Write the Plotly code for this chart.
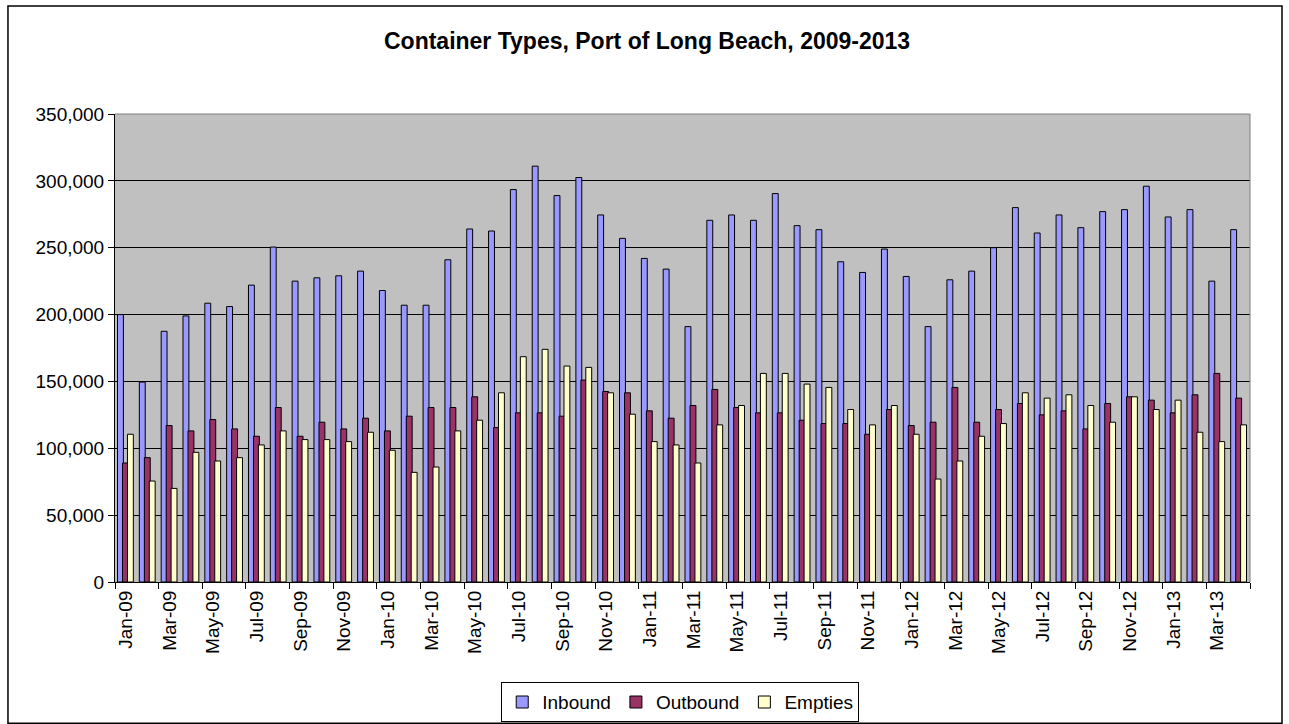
import plotly.graph_objects as go

months = ["Jan-09", "Feb-09", "Mar-09", "Apr-09", "May-09", "Jun-09", "Jul-09", "Aug-09", "Sep-09", "Oct-09", "Nov-09", "Dec-09",
          "Jan-10", "Feb-10", "Mar-10", "Apr-10", "May-10", "Jun-10", "Jul-10", "Aug-10", "Sep-10", "Oct-10", "Nov-10", "Dec-10",
          "Jan-11", "Feb-11", "Mar-11", "Apr-11", "May-11", "Jun-11", "Jul-11", "Aug-11", "Sep-11", "Oct-11", "Nov-11", "Dec-11",
          "Jan-12", "Feb-12", "Mar-12", "Apr-12", "May-12", "Jun-12", "Jul-12", "Aug-12", "Sep-12", "Oct-12", "Nov-12", "Dec-12",
          "Jan-13", "Feb-13", "Mar-13", "Apr-13"]

inbound = [200000, 149500, 187500, 199000, 208500, 206000, 222000, 250500, 225000, 227500, 229000, 232500,
           218000, 207000, 207000, 241000, 264000, 262500, 293500, 311000, 289000, 302500, 274500, 257000,
           242000, 234000, 191000, 270500, 274500, 270500, 290500, 266500, 263500, 239500, 231500, 249000,
           228500, 191000, 226000, 232500, 250000, 280000, 261000, 274500, 265000, 277000, 278500, 296000,
           273000, 278500, 225000, 263500]

outbound = [89000, 93000, 117000, 113000, 121500, 114500, 109000, 130500, 109000, 119500, 114500, 122500,
            113000, 124000, 130500, 130500, 138500, 115500, 126500, 126500, 124000, 151000, 142500, 141500,
            128000, 122500, 132000, 144000, 130500, 126500, 126500, 121000, 118500, 118500, 110500, 129000,
            117000, 119500, 145500, 119500, 129000, 133500, 125000, 128000, 114500, 133500, 138500, 136000,
            126500, 140000, 156000, 137500]

empties = [110500, 75500, 70000, 97000, 90500, 93000, 102500, 113000, 106500, 106500, 105000, 112000,
           98500, 82000, 86000, 113000, 121000, 141500, 168500, 174000, 161500, 160500, 141500, 125500,
           105000, 102500, 89000, 117500, 132000, 156000, 156000, 148000, 145500, 129000, 117500, 132000,
           110500, 77000, 90500, 109000, 118500, 141500, 137500, 140000, 132000, 119500, 138500, 129000,
           136000, 112000, 105000, 117500]

series = [
    ("Inbound", inbound, "#9999FF", -0.385),
    ("Outbound", outbound, "#993366", -0.155),
    ("Empties", empties, "#FFFFCC", 0.07),
]

FONT = "Liberation Sans, Arial, sans-serif"

fig = go.Figure()
for name, vals, color, off in series:
    fig.add_trace(go.Bar(
        x=months, y=vals, name=name,
        marker=dict(color=color, line=dict(color="black", width=1)),
        offset=off, width=0.27,
    ))

n = len(months)
boundaries = [i - 0.5 for i in range(0, n, 2)] + [n - 0.5]

fig.update_layout(
    width=1289, height=724,
    margin=dict(l=115, r=39, t=114, b=142, autoexpand=False),
    paper_bgcolor="white",
    plot_bgcolor="#C0C0C0",
    barmode="overlay",
    font=dict(family=FONT, color="black", size=19),
    title=dict(text="<b>Container Types, Port of Long Beach, 2009-2013</b>",
               x=0.502, xanchor="center", y=0.944, yanchor="middle",
               font=dict(family=FONT, size=23, color="black")),
    xaxis=dict(
        type="category", categoryorder="array", categoryarray=months,
        range=[-0.5, n - 0.5],
        tickmode="array", tickvals=months[::2], ticktext=months[::2],
        tickangle=-90, ticks="", showgrid=False,
        showline=True, linecolor="black", linewidth=1,
        tickfont=dict(family=FONT, size=19, color="black"),
        zeroline=False,
    ),
    xaxis2=dict(
        overlaying="x", anchor="y", side="bottom", type="linear",
        range=[-0.5, n - 0.5], tickmode="array", tickvals=boundaries,
        showticklabels=False, ticks="outside", ticklen=6, tickcolor="black",
        tickwidth=1, showgrid=False, showline=False, zeroline=False,
    ),
    yaxis=dict(
        range=[0, 350000], dtick=50000, tickformat=",",
        showgrid=True, gridcolor="black", gridwidth=1,
        showline=True, linecolor="black", linewidth=1,
        ticks="outside", ticklen=6, tickcolor="black",
        tickfont=dict(family=FONT, size=19, color="black"),
        zeroline=False,
    ),
    legend=dict(
        orientation="h", x=0.498, xanchor="center", y=-0.214, yanchor="top",
        bordercolor="black", borderwidth=1, bgcolor="white",
        font=dict(family=FONT, size=19, color="black"),
        itemwidth=30, traceorder="normal",
    ),
    showlegend=True,
    shapes=[
        dict(type="rect", xref="paper", yref="paper", x0=-0.0943, x1=1.0282, y0=-0.302, y1=1.2309,
             line=dict(color="black", width=1.5), layer="above"),
        dict(type="line", xref="paper", yref="paper", x0=0, x1=1, y0=1, y1=1,
             line=dict(color="#808080", width=1), layer="above"),
        dict(type="line", xref="paper", yref="paper", x0=1, x1=1, y0=0, y1=1,
             line=dict(color="#808080", width=1), layer="above"),
    ],
)

# invisible helper trace so the boundary-tick axis is drawn
fig.add_trace(go.Scatter(x=[-0.5], y=[0], xaxis="x2", yaxis="y", mode="markers",
                         marker=dict(opacity=0), showlegend=False, hoverinfo="skip"))

fig.write_html("out.html", config={"displayModeBar": False},
               post_script="document.body.style.margin='0px';")
